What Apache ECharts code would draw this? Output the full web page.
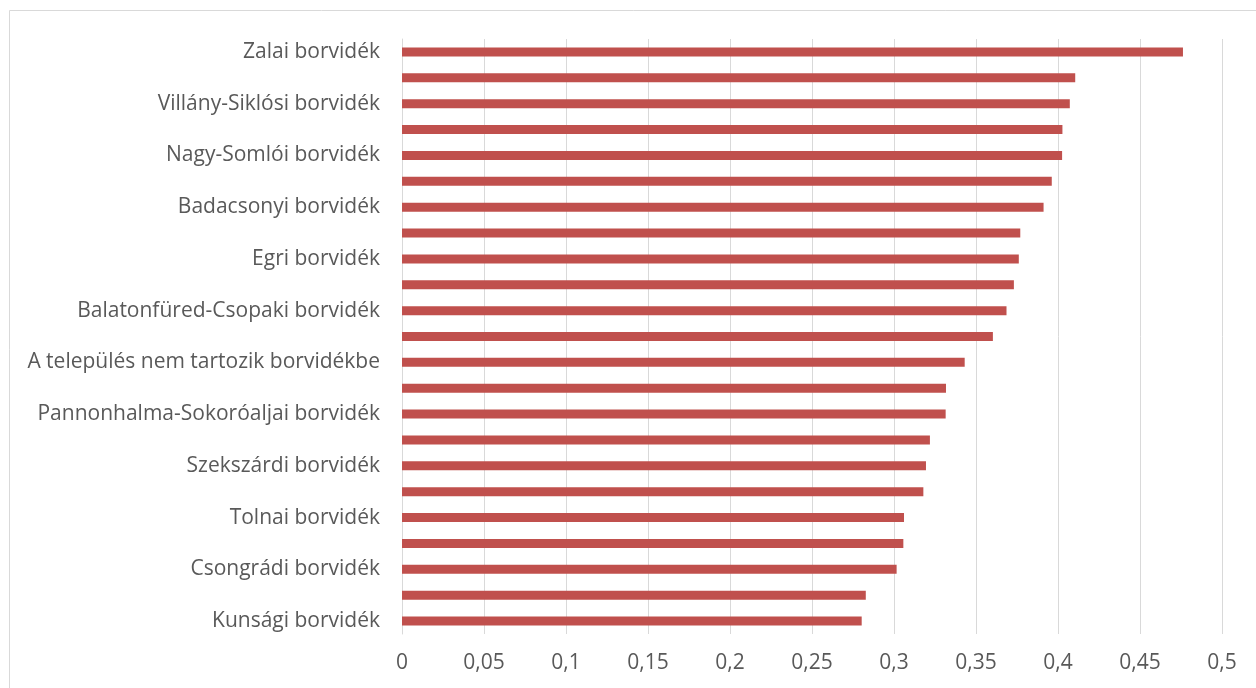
<!DOCTYPE html>
<html>
<head>
<meta charset="utf-8">
<script src="https://cdn.jsdelivr.net/npm/echarts@6/dist/echarts.min.js"></script>
<style>html,body{margin:0;padding:0;background:#fff;}#c{width:1256px;height:688px;}</style>
</head>
<body>
<div id="c"></div>
<script>
const categories = [
  "Zalai borvidék",
  "Tokaji borvidék",
  "Villány-Siklósi borvidék",
  "Mátrai borvidék",
  "Nagy-Somlói borvidék",
  "Soproni borvidék",
  "Badacsonyi borvidék",
  "Etyek-Budai borvidék",
  "Egri borvidék",
  "Balaton-felvidéki borvidék",
  "Balatonfüred-Csopaki borvidék",
  "Bükki borvidék",
  "A település nem tartozik borvidékbe",
  "Móri borvidék",
  "Pannonhalma-Sokoróaljai borvidék",
  "Neszmélyi borvidék",
  "Szekszárdi borvidék",
  "Pécsi borvidék",
  "Tolnai borvidék",
  "Balatonboglári borvidék",
  "Csongrádi borvidék",
  "Hajós-Bajai borvidék",
  "Kunsági borvidék"
];
const values = [
  0.4762, 0.4105, 0.4072, 0.4027, 0.4025, 0.3962, 0.3912, 0.3770, 0.3761, 0.3731,
  0.3686, 0.3603, 0.3431, 0.3317, 0.3315, 0.3219, 0.3195, 0.3179, 0.3061, 0.3057,
  0.3016, 0.2828, 0.2803
];
const xTickLabels = ["0","0,05","0,1","0,15","0,2","0,25","0,3","0,35","0,4","0,45","0,5"];

const chart = echarts.init(document.getElementById('c'), null, {renderer: 'canvas'});
chart.setOption({
  animation: false,
  backgroundColor: '#ffffff',
  textStyle: {fontFamily: 'Open Sans'},
  graphic: [{
    type: 'rect',
    shape: {x: 9.5, y: 10.5, width: 1300, height: 700},
    style: {fill: 'none', stroke: '#D9D9D9', lineWidth: 1},
    silent: true
  }],
  grid: {left: 402, right: 34, top: 39, bottom: 54, containLabel: false},
  xAxis: {
    type: 'value',
    min: 0, max: 0.5, interval: 0.05,
    axisLine: {show: false},
    axisTick: {show: false},
    splitLine: {show: true, lineStyle: {color: '#D9D9D9', width: 1}},
    axisLabel: {
      color: '#595959', fontSize: 21, margin: 19, fontFamily: 'Open Sans',
      formatter: function (v) { return xTickLabels[Math.round(v / 0.05)]; }
    }
  },
  yAxis: {
    type: 'category',
    inverse: true,
    data: categories,
    axisLine: {show: true, lineStyle: {color: '#D9D9D9', width: 1}},
    axisTick: {show: false},
    axisLabel: {color: '#595959', fontSize: 21, margin: 22, interval: 1, fontFamily: 'Open Sans'}
  },
  series: [{
    type: 'bar',
    data: values,
    barWidth: 9,
    itemStyle: {color: '#C0504D'}
  }]
});
</script>
</body>
</html>
